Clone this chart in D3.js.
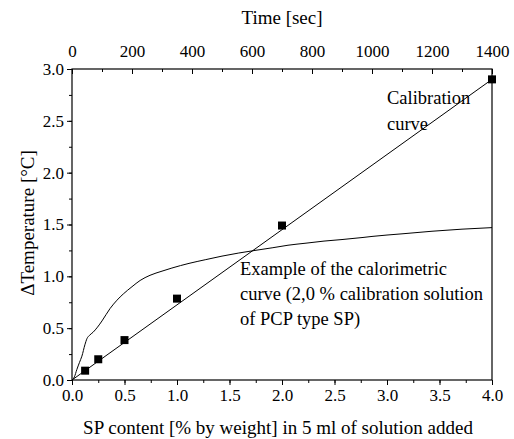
<!DOCTYPE html>
<html><head><meta charset="utf-8">
<script src="https://cdn.jsdelivr.net/npm/d3@7"></script>
<style>body{margin:0;background:#fff}svg{display:block}text{font-family:'Liberation Serif','Times New Roman',Times,'DejaVu Serif',serif;fill:#000}</style>
</head><body><svg id="c" width="514" height="439"></svg>
<script>
const calibX = [0.125, 0.25, 0.5, 1.0, 2.0, 4.0];
const calibY = [0.09, 0.20, 0.385, 0.785, 1.49, 2.90];
const fitX = [0, 4.0];
const fitY = [0, 2.90];
const curveT = [0, 8, 16, 25, 33, 43, 50, 58, 70, 85, 100, 127, 150, 171, 200, 227, 260, 300, 333, 390, 444, 500, 556, 610, 667, 720, 780, 840, 900, 970, 1000, 1100, 1200, 1300, 1400];
const curveV = [0, 0.03, 0.10, 0.17, 0.23, 0.34, 0.40, 0.43, 0.46, 0.51, 0.57, 0.69, 0.77, 0.83, 0.90, 0.96, 1.01, 1.05, 1.08, 1.125, 1.16, 1.195, 1.225, 1.25, 1.275, 1.30, 1.32, 1.34, 1.355, 1.375, 1.385, 1.41, 1.435, 1.455, 1.47];
const xTicks = [0, 0.5, 1.0, 1.5, 2.0, 2.5, 3.0, 3.5, 4.0];
const yTicks = [0, 0.5, 1.0, 1.5, 2.0, 2.5, 3.0];
const tTicks = [0, 200, 400, 600, 800, 1000, 1200, 1400];

const FONT = "'Liberation Serif','Times New Roman',Times,'DejaVu Serif',serif";
const L = 72, R = 492, T = 69, B = 380;
const svg = d3.select("#c");
const x = d3.scaleLinear().domain([0, 4]).range([L, R]);
const y = d3.scaleLinear().domain([0, 3]).range([B, T]);
const xt = d3.scaleLinear().domain([0, 1400]).range([L, R]);

function styleAxis(g){ g.select(".domain").remove(); g.selectAll("line").attr("stroke","#000").attr("stroke-width",1); g.selectAll("text").attr("font-family",FONT).style("font-family",FONT).style("font-size","17px"); }
svg.attr("font-family", FONT);

// minor ticks
svg.append("g").attr("transform",`translate(0,${B})`).call(d3.axisBottom(x).tickValues(d3.range(0,4.01,0.25)).tickSize(3).tickFormat("")).call(styleAxis);
svg.append("g").attr("transform",`translate(${L},0)`).call(d3.axisLeft(y).tickValues(d3.range(0,3.01,0.25)).tickSize(3).tickFormat("")).call(styleAxis);
svg.append("g").attr("transform",`translate(0,${T})`).call(d3.axisTop(xt).tickValues(d3.range(0,1401,100)).tickSize(-3).tickFormat("")).call(styleAxis);
// major ticks
svg.append("g").attr("transform",`translate(0,${B})`).call(d3.axisBottom(x).tickValues(xTicks).tickSize(5).tickPadding(4).tickFormat(d3.format(".1f"))).call(styleAxis);
svg.append("g").attr("transform",`translate(${L},0)`).call(d3.axisLeft(y).tickValues(yTicks).tickSize(5).tickPadding(3).tickFormat(d3.format(".1f"))).call(styleAxis);
svg.append("g").attr("transform",`translate(0,${T})`).call(d3.axisTop(xt).tickValues(tTicks).tickSize(-5).tickPadding(12).tickFormat(d3.format("d"))).call(styleAxis);

// frame
svg.append("rect").attr("x",L).attr("y",T).attr("width",R-L).attr("height",B-T).attr("fill","none").attr("stroke","#000").attr("stroke-width",1.2);

// calibration line
svg.append("path").datum(fitX.map((d,i)=>[d,fitY[i]]))
  .attr("d", d3.line().x(d=>x(d[0])).y(d=>y(d[1]))).attr("fill","none").attr("stroke","#000").attr("stroke-width",1);
// calorimetric curve
svg.append("path").datum(curveT.map((d,i)=>[d,curveV[i]]))
  .attr("d", d3.line().x(d=>xt(d[0])).y(d=>y(d[1])).curve(d3.curveMonotoneX)).attr("fill","none").attr("stroke","#000").attr("stroke-width",1);
// markers
svg.append("g").selectAll("rect").data(calibX.map((d,i)=>[d,calibY[i]])).join("rect")
  .attr("x",d=>x(d[0])-4).attr("y",d=>y(d[1])-4).attr("width",8).attr("height",8).attr("fill","#000");

// annotations
const ann = svg.append("g").style("font-size","18.5px").style("font-family",FONT);
ann.append("text").attr("x",387).attr("y",104).text("Calibration");
ann.append("text").attr("x",387).attr("y",130).text("curve");
ann.append("text").attr("x",240).attr("y",275).text("Example of the calorimetric");
ann.append("text").attr("x",240).attr("y",300).text("curve (2,0 % calibration solution");
ann.append("text").attr("x",240).attr("y",325).text("of PCP type SP)");

// titles
svg.append("text").attr("x",282).attr("y",24).attr("text-anchor","middle").style("font-family",FONT).style("font-size","19px").text("Time [sec]");
svg.append("text").attr("x",278).attr("y",434).attr("text-anchor","middle").style("font-family",FONT).style("font-size","19px").text("SP content [% by weight] in 5 ml of solution added");
svg.append("text").attr("transform","translate(34,223) rotate(-90)").attr("text-anchor","middle").style("font-family",FONT).style("font-size","19px").text("ΔTemperature [°C]");
</script></body></html>
